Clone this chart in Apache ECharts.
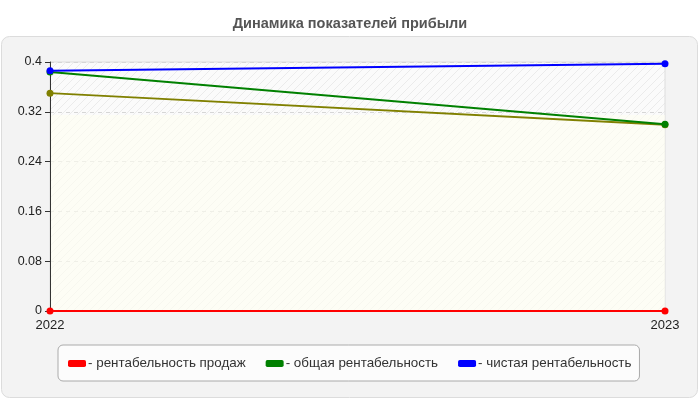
<!DOCTYPE html>
<html><head><meta charset="utf-8">
<script src="https://cdn.jsdelivr.net/npm/echarts@6/dist/echarts.min.js"></script>
<style>html,body{margin:0;padding:0;background:#fff}#c{width:700px;height:400px}</style>
</head><body><div id="c"></div>
<script>
const categories = ['2022', '2023'];
const salesProfitability = [0, 0];
const totalProfitability = [0.384, 0.300];
const netProfitability = [0.386, 0.397];
const extraSeries = [0.350, 0.299];
const yTicks = [0, 0.08, 0.16, 0.24, 0.32, 0.4];

const pc = document.createElement('canvas');
pc.width = 8; pc.height = 8;
const px = pc.getContext('2d');
px.fillStyle = '#fbfbfb'; px.fillRect(0,0,8,8);
px.strokeStyle = '#ebebeb'; px.lineWidth = 1;
px.beginPath(); px.moveTo(0,8); px.lineTo(8,0); px.stroke();
px.beginPath(); px.moveTo(-4,4); px.lineTo(4,-4); px.stroke();
px.beginPath(); px.moveTo(4,12); px.lineTo(12,4); px.stroke();

const chart = echarts.init(document.getElementById('c'));
const font = 'Liberation Sans, Arial, sans-serif';
function line(name, data, color, z) {
  return {
    name, type: 'line', data, z,
    symbol: 'circle', symbolSize: 7,
    lineStyle: { color, width: 2 },
    itemStyle: { color },
    emphasis: { disabled: true }
  };
}
const s4 = line('extra', extraSeries, '#808000', 2);
s4.markArea = {
  silent: true,
  z: 0,
  itemStyle: { color: 'rgba(255,255,242,0.6)' },
  data: [[{ yAxis: 0 }, { yAxis: 0.315 }]]
};
chart.setOption({
  animation: false,
  backgroundColor: '#fff',
  graphic: [{
    type: 'rect', z: -10, silent: true,
    shape: { x: 1.5, y: 36.5, width: 696, height: 361, r: 8 },
    style: { fill: '#f3f3f3', stroke: '#dcdcdc', lineWidth: 1 }
  }],
  title: {
    text: 'Динамика показателей прибыли', left: 'center', top: 11,
    textStyle: { fontFamily: font, fontSize: 14.5, fontWeight: 'bold', color: '#555' }
  },
  legend: {
    data: ['рентабельность продаж', 'общая рентабельность', 'чистая рентабельность'],
    left: 58, top: 345,
    padding: [12, 8, 11, 10],
    itemGap: 20, itemWidth: 18, itemHeight: 7, icon: 'roundRect',
    backgroundColor: '#fcfcfc', borderColor: '#aaa', borderWidth: 1, borderRadius: 5,
    formatter: n => '- ' + n,
    textStyle: { fontFamily: font, fontSize: 13.4, color: '#333', padding: [0, 0, 0, -3] }
  },
  grid: {
    left: 50, right: 35, top: 62, bottom: 89,
    show: true, backgroundColor: { image: pc, repeat: 'repeat' },
    borderColor: '#ddd', borderWidth: 1
  },
  xAxis: {
    type: 'category', data: categories, boundaryGap: false,
    axisLine: { lineStyle: { color: '#333' } },
    axisTick: { show: false },
    axisLabel: { fontFamily: font, fontSize: 13, color: '#222', margin: 8 },
    splitLine: { show: false }
  },
  yAxis: {
    type: 'value', min: 0, max: 0.4, interval: 0.08,
    axisLine: { show: true, lineStyle: { color: '#333' } },
    axisTick: { show: true, length: 5, lineStyle: { color: '#333' } },
    axisLabel: { fontFamily: font, fontSize: 12.5, color: '#222', margin: 8,
      formatter: v => { const t = yTicks.find(x => Math.abs(x - v) < 1e-9); return String(t !== undefined ? t : v); } },
    splitLine: { lineStyle: { color: '#d6d6d6', type: [4, 4] } }
  },
  series: [
    s4,
    line('общая рентабельность', totalProfitability, '#008000', 3),
    line('чистая рентабельность', netProfitability, '#0000ff', 4),
    line('рентабельность продаж', salesProfitability, '#ff0000', 5)
  ]
});
</script></body></html>
